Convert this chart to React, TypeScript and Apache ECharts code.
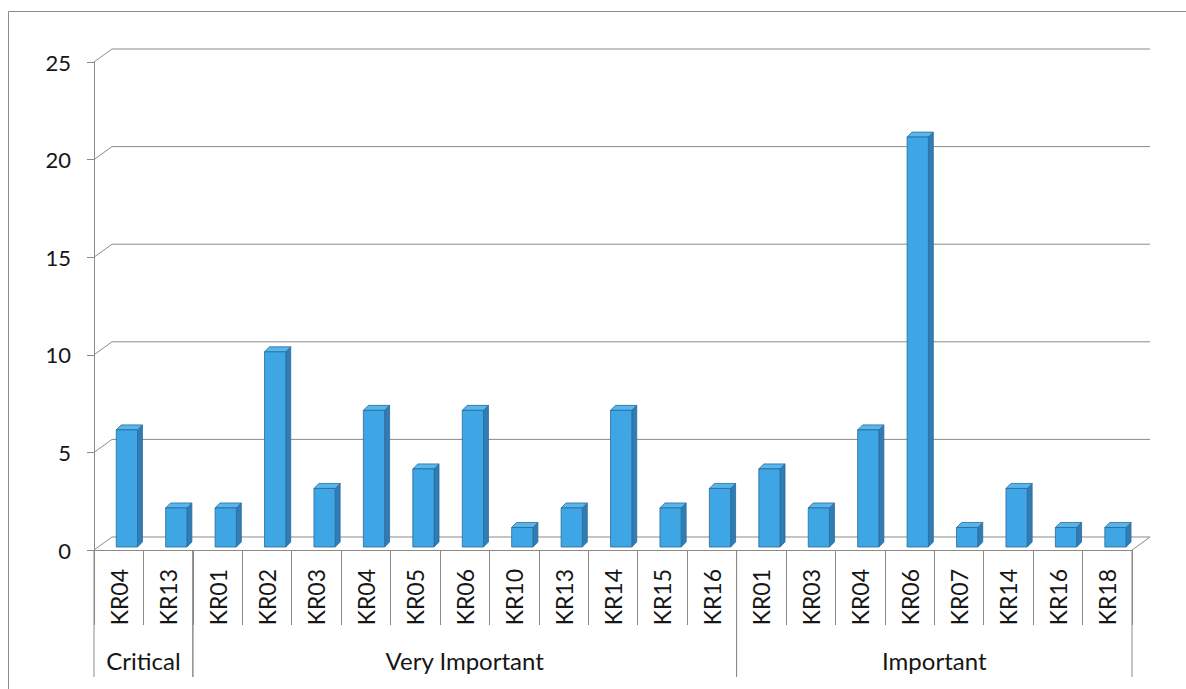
import React, { useEffect, useRef } from "react";
import * as echarts from "echarts";

// Key-result codes along the horizontal axis, grouped by importance level
const categories = [
  "KR04", "KR13",
  "KR01", "KR02", "KR03", "KR04", "KR05", "KR06", "KR10", "KR13", "KR14", "KR15", "KR16",
  "KR01", "KR03", "KR04", "KR06", "KR07", "KR14", "KR16", "KR18",
];
const counts = [6, 2, 2, 10, 3, 7, 4, 7, 1, 2, 7, 2, 3, 4, 2, 6, 21, 1, 3, 1, 1];

const groupNames = ["Critical", "Very Important", "Important"];
const groupStart = [0, 2, 13];
const groupEnd = [1, 12, 20];

const yTicks = [0, 5, 10, 15, 20, 25];

const FONT = "Lato, 'Open Sans', sans-serif";
const TEXT = "#161616";
const LINE = "#8a8a8a";
// back-wall offset of the pseudo 3D box
const DX = 18;
const DY = -13;

export default function App() {
  const ref = useRef<HTMLDivElement>(null);

  useEffect(() => {
    if (!ref.current) return;
    const chart = echarts.init(ref.current, undefined, { renderer: "svg" });

    const option: any = {
      animation: false,
      backgroundColor: "#ffffff",
      grid: { left: 94, top: 62, width: 1038, height: 488, containLabel: false },
      xAxis: {
        type: "category",
        data: categories,
        axisLine: { show: true, lineStyle: { color: LINE, width: 1 } },
        axisTick: { show: true, length: 75, lineStyle: { color: LINE, width: 1 } },
        axisLabel: {
          rotate: 90,
          margin: 19,
          fontSize: 23,
          fontFamily: FONT,
          color: TEXT,
          interval: 0,
        },
        splitLine: { show: false },
      },
      yAxis: {
        type: "value",
        min: 0,
        max: 25,
        interval: 5,
        axisLine: { show: true, lineStyle: { color: LINE, width: 1 } },
        axisTick: { show: true, length: 7, lineStyle: { color: LINE, width: 1 } },
        axisLabel: { margin: 23, fontSize: 22, fontFamily: FONT, color: TEXT },
        splitLine: { show: false },
      },
      graphic: [
        {
          type: "polyline",
          shape: { points: [[8.5, 689], [8.5, 11.5], [1186, 11.5]] },
          style: { stroke: "#8a8a8a", lineWidth: 1, fill: "none" },
          silent: true,
        },
      ],
      series: [
        // back-wall gridlines and floor outline
        {
          type: "custom",
          silent: true,
          z: 1,
          data: yTicks.map((t) => [0, t]),
          encode: { x: 0, y: 1 },
          renderItem: (params: any, api: any) => {
            const v = api.value(1);
            const bw = api.size([1, 0])[0];
            const first = api.coord([0, v]);
            const last = api.coord([categories.length - 1, v]);
            const left = first[0] - bw / 2;
            const right = last[0] + bw / 2;
            const y = first[1];
            const pts: number[][] = [
              [left, y],
              [left + DX, y + DY],
              [right + DX, y + DY],
            ];
            if (v === 0) pts.push([right, y]);
            return {
              type: "polyline",
              shape: { points: pts },
              style: { stroke: LINE, lineWidth: 1, fill: "none" },
            };
          },
        },
        // group separators and group names under the axis
        {
          type: "custom",
          silent: true,
          z: 2,
          data: groupNames.map((n, i) => [groupStart[i], groupEnd[i], n]),
          encode: { x: 0 },
          renderItem: (params: any, api: any) => {
            const s = api.value(0);
            const e = api.value(1);
            const name = groupNames[params.dataIndex];
            const bw = api.size([1, 0])[0];
            const a = api.coord([s, 0]);
            const b = api.coord([e, 0]);
            const x0 = a[0] - bw / 2;
            const x1 = b[0] + bw / 2;
            const y0 = a[1];
            const y1 = y0 + 127;
            return {
              type: "group",
              children: [
                { type: "line", shape: { x1: x0, y1: y0, x2: x0, y2: y1 }, style: { stroke: LINE, lineWidth: 1 } },
                { type: "line", shape: { x1: x1, y1: y0, x2: x1, y2: y1 }, style: { stroke: LINE, lineWidth: 1 } },
                {
                  type: "text",
                  style: {
                    text: name,
                    x: (x0 + x1) / 2,
                    y: y0 + 110,
                    align: "center",
                    verticalAlign: "middle",
                    font: `24px ${FONT}`,
                    fill: TEXT,
                  },
                },
              ],
            };
          },
        },
        // 3D-looking columns: front face, right side and top
        {
          type: "custom",
          z: 3,
          data: counts.map((c, i) => [i, c]),
          encode: { x: 0, y: 1 },
          renderItem: (params: any, api: any) => {
            const idx = api.value(0);
            const v = api.value(1);
            const bw = api.size([1, 0])[0];
            const base = api.coord([idx, 0]);
            const top = api.coord([idx, v]);
            const x0 = base[0] - bw * 0.05;
            const w = bw * 0.43;
            const yb = base[1] - 3;
            const yt = top[1] - 3;
            const dx = bw * 0.1;
            const dy = -5;
            const edge = "#2a6a98";
            return {
              type: "group",
              children: [
                {
                  type: "polygon",
                  shape: { points: [[x0 + w, yt], [x0 + w + dx, yt + dy], [x0 + w + dx, yb + dy], [x0 + w, yb]] },
                  style: { fill: "#2f7cb6", stroke: edge, lineWidth: 0.8 },
                },
                {
                  type: "polygon",
                  shape: { points: [[x0, yt], [x0 + dx, yt + dy], [x0 + w + dx, yt + dy], [x0 + w, yt]] },
                  style: { fill: "#57b6ec", stroke: edge, lineWidth: 0.8 },
                },
                {
                  type: "rect",
                  shape: { x: x0, y: yt, width: w, height: yb - yt },
                  style: { fill: "#3ea6e4", stroke: edge, lineWidth: 0.8 },
                },
              ],
            };
          },
        },
      ],
    };

    chart.setOption(option);
    return () => chart.dispose();
  }, []);

  return (
    <div
      ref={ref}
      style={{ position: "fixed", left: 0, top: 0, width: 1186, height: 689, background: "#fff" }}
    />
  );
}
